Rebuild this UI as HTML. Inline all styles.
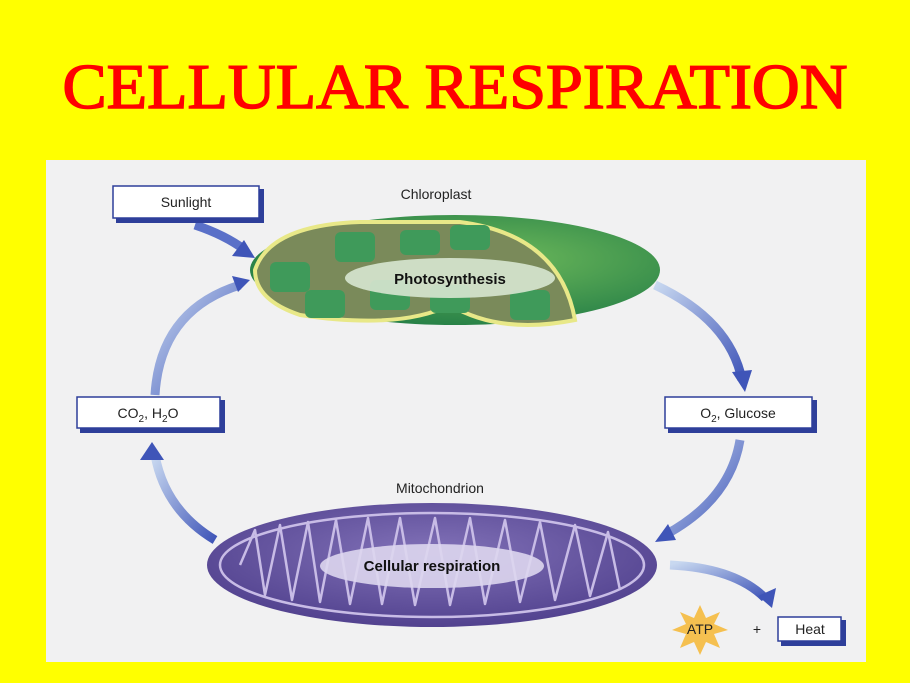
<!DOCTYPE html>
<html><head><meta charset="utf-8"><style>
html,body{margin:0;padding:0;background:#ffff00;width:910px;height:683px;overflow:hidden}
svg{display:block}
</style></head><body>
<svg width="910" height="683" viewBox="0 0 910 683" xmlns="http://www.w3.org/2000/svg" font-family="Liberation Sans, sans-serif">
<defs>
<linearGradient id="ag" x1="0" y1="0" x2="1" y2="1"><stop offset="0" stop-color="#c8d8f0"/><stop offset="1" stop-color="#3f55b8"/></linearGradient>
<radialGradient id="gg" cx="0.6" cy="0.4" r="0.7"><stop offset="0" stop-color="#6cb85a"/><stop offset="1" stop-color="#1f7a45"/></radialGradient>
<radialGradient id="pg" cx="0.5" cy="0.4" r="0.7"><stop offset="0" stop-color="#8272b8"/><stop offset="1" stop-color="#4a3a88"/></radialGradient>
</defs>
<rect width="910" height="683" fill="#ffff00"/>
<text x="455" y="108" text-anchor="middle" font-family="Liberation Serif, serif" font-size="64" fill="#ff0000" stroke="#ff0000" stroke-width="1.5" textLength="785" lengthAdjust="spacingAndGlyphs">CELLULAR RESPIRATION</text>
<rect x="46" y="160" width="820" height="502" fill="#f1f1f2"/>
<g fill="none" stroke-width="9">
<path d="M195 225 Q225 235 245 250" stroke="#5a70c8"/>
<path d="M155 395 Q160 310 240 285" stroke="url(#ag)"/>
<path d="M655 285 Q730 320 742 380" stroke="url(#ag)"/>
<path d="M740 440 Q730 500 665 535" stroke="url(#ag)"/>
<path d="M215 540 Q165 510 155 455" stroke="url(#ag)"/>
<path d="M670 565 Q735 568 765 598" stroke="url(#ag)"/>
</g>
<g fill="#3f55b8">
<polygon points="255,258 232,256 244,240"/>
<polygon points="250,280 232,276 238,292"/>
<polygon points="745,392 732,372 752,370"/>
<polygon points="655,542 668,524 676,540"/>
<polygon points="152,442 140,460 164,460"/>
<polygon points="772,608 758,596 776,588"/>
</g>
<ellipse cx="455" cy="270" rx="205" ry="55" fill="url(#gg)"/>
<path d="M255 270 Q270 225 360 222 L460 222 Q560 235 575 320 Q500 335 450 305 Q400 330 300 315 Q255 300 255 270Z" fill="#7a8a5a" stroke="#e8e888" stroke-width="4"/>
<g fill="#3f9a5a">
<rect x="270" y="262" width="40" height="30" rx="6"/><rect x="335" y="232" width="40" height="30" rx="6"/>
<rect x="400" y="230" width="40" height="25" rx="6"/><rect x="450" y="225" width="40" height="25" rx="6"/>
<rect x="305" y="290" width="40" height="28" rx="6"/><rect x="370" y="280" width="40" height="30" rx="6"/>
<rect x="430" y="285" width="40" height="28" rx="6"/><rect x="510" y="290" width="40" height="30" rx="6"/>
</g>
<ellipse cx="450" cy="278" rx="105" ry="20" fill="#d7e6d0" opacity="0.9"/>
<text x="450" y="284" text-anchor="middle" font-size="15" font-weight="bold" fill="#111">Photosynthesis</text>
<text x="436" y="199" text-anchor="middle" font-size="14" fill="#222">Chloroplast</text>
<ellipse cx="432" cy="565" rx="225" ry="62" fill="url(#pg)"/>
<ellipse cx="432" cy="565" rx="212" ry="52" fill="none" stroke="#c8bce6" stroke-width="2.5"/>
<path d="M240 565 L255 530 L265 595 L280 525 L292 600 L308 522 L320 602 L336 520 L350 604 L368 518 L382 604 L400 518 L415 605 L435 518 L450 605 L470 518 L485 604 L505 520 L520 602 L540 522 L555 600 L575 525 L590 596 L608 532 L620 590" fill="none" stroke="#c8bce6" stroke-width="2.5" stroke-linejoin="round"/>
<ellipse cx="432" cy="566" rx="112" ry="22" fill="#ddd6ee" opacity="0.9"/>
<text x="432" y="571" text-anchor="middle" font-size="15" font-weight="bold" fill="#111">Cellular respiration</text>
<text x="440" y="493" text-anchor="middle" font-size="14" fill="#222">Mitochondrion</text>
<g font-size="14" fill="#222">
<rect x="116" y="189" width="148" height="34" fill="#2e3f9a"/>
<rect x="113" y="186" width="146" height="32" fill="#fff" stroke="#2e3f9a" stroke-width="1.5"/>
<text x="186" y="207" text-anchor="middle">Sunlight</text>
<rect x="80" y="400" width="145" height="33" fill="#2e3f9a"/>
<rect x="77" y="397" width="143" height="31" fill="#fff" stroke="#2e3f9a" stroke-width="1.5"/>
<text x="148" y="418" text-anchor="middle">CO<tspan font-size="10" dy="4">2</tspan><tspan dy="-4">, H</tspan><tspan font-size="10" dy="4">2</tspan><tspan dy="-4">O</tspan></text>
<rect x="668" y="400" width="149" height="33" fill="#2e3f9a"/>
<rect x="665" y="397" width="147" height="31" fill="#fff" stroke="#2e3f9a" stroke-width="1.5"/>
<text x="738" y="418" text-anchor="middle">O<tspan font-size="10" dy="4">2</tspan><tspan dy="-4">, Glucose</tspan></text>
<rect x="781" y="620" width="65" height="26" fill="#2e3f9a"/>
<rect x="778" y="617" width="63" height="24" fill="#fff" stroke="#2e3f9a" stroke-width="1.5"/>
<text x="810" y="634" text-anchor="middle">Heat</text>
<polygon points="700,605 706,618 720,612 714,624 728,630 714,634 720,648 706,642 700,655 694,642 680,648 686,634 672,630 686,624 680,612 694,618" fill="#f5c050"/>
<text x="700" y="634" text-anchor="middle">ATP</text>
<text x="757" y="634" text-anchor="middle">+</text>
</g>
</svg>
</body></html>
